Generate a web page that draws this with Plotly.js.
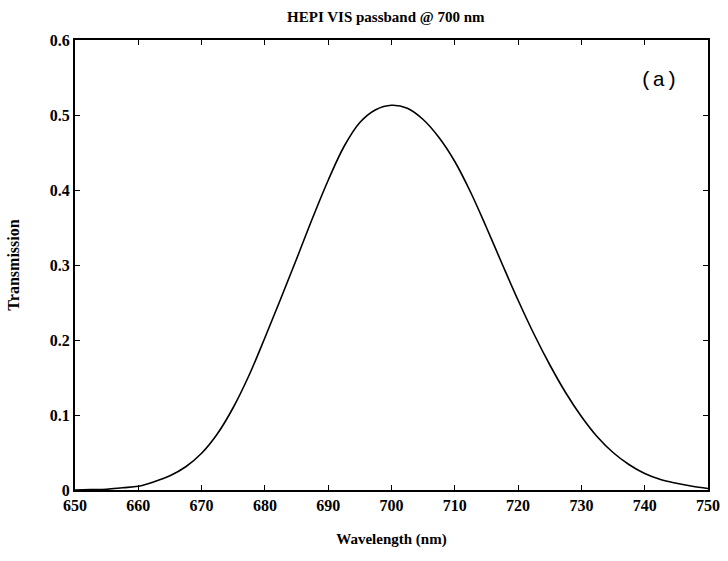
<!DOCTYPE html>
<html>
<head>
<meta charset="utf-8">
<script src="https://cdn.plot.ly/plotly-3.0.1.min.js"></script>
<style>html,body{margin:0;padding:0;background:#fff;}#chart{width:728px;height:561px;}</style>
</head>
<body>
<div id="chart"></div>
<script>
const wavelength = [650,652.5,655,657.5,660,662.5,665,667.5,670,672.5,675,677.5,680,682.5,685,687.5,690,692.5,695,697.5,700,702.5,705,707.5,710,712.5,715,717.5,720,722.5,725,727.5,730,732.5,735,737.5,740,742.5,745,747.5,750];
const transmission = [0.000,0.0005,0.001,0.003,0.005,0.011,0.019,0.031,0.049,0.075,0.110,0.153,0.203,0.255,0.308,0.362,0.413,0.458,0.490,0.507,0.513,0.509,0.494,0.470,0.438,0.397,0.350,0.301,0.253,0.208,0.167,0.130,0.098,0.071,0.050,0.034,0.022,0.014,0.009,0.005,0.002];
const xTickVals = [650,660,670,680,690,700,710,720,730,740,750];
const xTickText = ["650","660","670","680","690","700","710","720","730","740","750"];
const yTickVals = [0,0.1,0.2,0.3,0.4,0.5,0.6];
const yTickText = ["0","0.1","0.2","0.3","0.4","0.5","0.6"];

const serif = "Liberation Serif, Times New Roman, serif";
const trace = {
  x: wavelength, y: transmission, type: "scatter", mode: "lines",
  line: {color: "#000", width: 1.6, shape: "spline", smoothing: 1}, hoverinfo: "skip"
};
const axisCommon = {
  showgrid: false, zeroline: false, showline: true, linecolor: "#000", linewidth: 2,
  mirror: "ticks", ticks: "inside", ticklen: 5, tickwidth: 1, tickcolor: "#000",
  tickfont: {family: serif, size: 16, color: "#000", weight: "bold"}
};
const layout = {
  width: 728, height: 561,
  margin: {l: 75, r: 20, t: 40, b: 71},
  paper_bgcolor: "#fff", plot_bgcolor: "#fff",
  showlegend: false,
  title: {text: "HEPI VIS passband @ 700 nm", font: {family: serif, size: 15, color: "#000", weight: "bold"}, x: 0.53, xanchor: "center", y: 0.97, yanchor: "middle"},
  xaxis: Object.assign({}, axisCommon, {
    range: [650, 750], tickvals: xTickVals, ticktext: xTickText,
    title: {text: "Wavelength (nm)", font: {family: serif, size: 15, color: "#000", weight: "bold"}, standoff: 20}
  }),
  yaxis: Object.assign({}, axisCommon, {
    range: [0, 0.6], tickvals: yTickVals, ticktext: yTickText,
    title: {text: "Transmission", font: {family: serif, size: 16, color: "#000", weight: "bold"}, standoff: 26}
  }),
  annotations: [{
    text: "(a)", xref: "paper", yref: "paper", x: 0.955, y: 0.94,
    showarrow: false, font: {family: "Liberation Mono, DejaVu Sans Mono, monospace", size: 21, color: "#000"}
  }]
};
Plotly.newPlot("chart", [trace], layout, {staticPlot: true, displayModeBar: false});
</script>
</body>
</html>
